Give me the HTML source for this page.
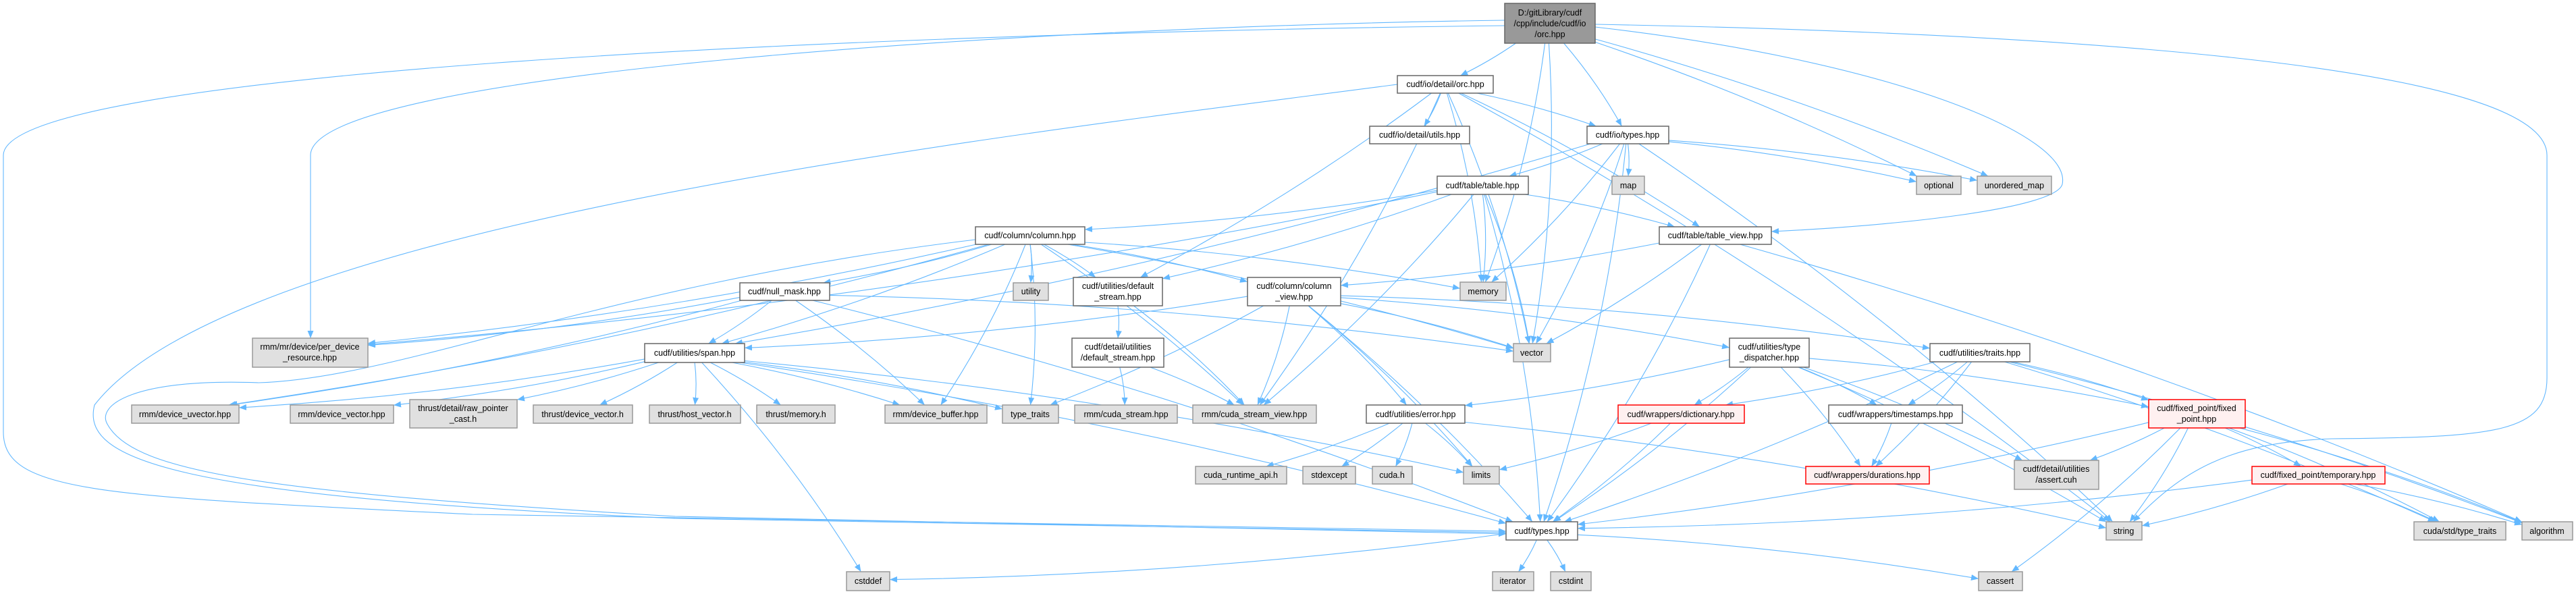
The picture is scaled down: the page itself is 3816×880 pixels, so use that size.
<!DOCTYPE html>
<html><head><meta charset="utf-8"><style>
html,body{margin:0;padding:0;background:#fff;width:3816px;height:880px;overflow:hidden}
svg{display:block}
text{font-family:"Liberation Sans",Arial,sans-serif;font-size:12.5px;fill:#000;text-anchor:middle}
.w{fill:#fff;stroke:#666;stroke-width:1.5}
.g{fill:#e0e0e0;stroke:#999;stroke-width:1.5}
.r{fill:#fff0f0;stroke:#f00;stroke-width:1.5}
.m{fill:#999;stroke:#666;stroke-width:1.5}
.e{fill:none;stroke:#63b8ff;stroke-width:1.1}
</style></head><body>
<svg id="s" width="3816" height="880" viewBox="0 0 3816 880" xmlns="http://www.w3.org/2000/svg">
<defs><marker id="a" markerUnits="userSpaceOnUse" markerWidth="11" markerHeight="9" refX="11" refY="4.5" orient="auto"><path d="M0,0 L11,4.5 L0,9 z" fill="#63b8ff"/></marker></defs>
<g id="edges"></g>
<g id="nodes">
<rect class="m" x="2229" y="5" width="134" height="59"/><text x="2296" y="23">D:/gitLibrary/cudf</text><text x="2296" y="39">/cpp/include/cudf/io</text><text x="2296" y="55">/orc.hpp</text>
<rect class="w" x="2070" y="112" width="142" height="26"/><text x="2141" y="129">cudf/io/detail/orc.hpp</text>
<rect class="w" x="2029" y="187" width="148" height="26"/><text x="2103" y="204">cudf/io/detail/utils.hpp</text>
<rect class="w" x="2351" y="187" width="121" height="26"/><text x="2411" y="204">cudf/io/types.hpp</text>
<rect class="w" x="2129" y="261" width="135" height="27"/><text x="2196" y="279">cudf/table/table.hpp</text>
<rect class="g" x="2388" y="261" width="48" height="27"/><text x="2412" y="279">map</text>
<rect class="g" x="2839" y="261" width="66" height="27"/><text x="2872" y="279">optional</text>
<rect class="g" x="2929" y="261" width="110" height="27"/><text x="2984" y="279">unordered_map</text>
<rect class="w" x="2458" y="336" width="166" height="26"/><text x="2541" y="353">cudf/table/table_view.hpp</text>
<rect class="g" x="2163" y="418" width="68" height="27"/><text x="2197" y="436">memory</text>
<rect class="w" x="1445" y="336" width="162" height="26"/><text x="1526" y="353">cudf/column/column.hpp</text>
<rect class="w" x="1096" y="419" width="133" height="26"/><text x="1162" y="436">cudf/null_mask.hpp</text>
<rect class="g" x="1501" y="419" width="52" height="26"/><text x="1527" y="436">utility</text>
<rect class="w" x="1590" y="411" width="132" height="42"/><text x="1656" y="428">cudf/utilities/default</text><text x="1656" y="444">_stream.hpp</text>
<rect class="w" x="1848" y="411" width="138" height="42"/><text x="1917" y="428">cudf/column/column</text><text x="1917" y="444">_view.hpp</text>
<rect class="g" x="374" y="501" width="171" height="43"/><text x="459" y="518">rmm/mr/device/per_device</text><text x="459" y="534">_resource.hpp</text>
<rect class="w" x="955" y="509" width="148" height="28"/><text x="1029" y="527">cudf/utilities/span.hpp</text>
<rect class="g" x="2242" y="509" width="55" height="27"/><text x="2269" y="527">vector</text>
<rect class="w" x="2562" y="501" width="118" height="43"/><text x="2621" y="518">cudf/utilities/type</text><text x="2621" y="534">_dispatcher.hpp</text>
<rect class="w" x="2859" y="509" width="148" height="27"/><text x="2933" y="527">cudf/utilities/traits.hpp</text>
<rect class="g" x="195" y="600" width="159" height="27"/><text x="274" y="618">rmm/device_uvector.hpp</text>
<rect class="g" x="430" y="600" width="153" height="27"/><text x="506" y="618">rmm/device_vector.hpp</text>
<rect class="g" x="607" y="592" width="159" height="42"/><text x="686" y="609">thrust/detail/raw_pointer</text><text x="686" y="625">_cast.h</text>
<rect class="g" x="790" y="600" width="147" height="27"/><text x="863" y="618">thrust/device_vector.h</text>
<rect class="g" x="962" y="600" width="135" height="27"/><text x="1029" y="618">thrust/host_vector.h</text>
<rect class="g" x="1121" y="600" width="116" height="27"/><text x="1179" y="618">thrust/memory.h</text>
<rect class="g" x="1311" y="600" width="151" height="27"/><text x="1386" y="618">rmm/device_buffer.hpp</text>
<rect class="g" x="1485" y="600" width="83" height="27"/><text x="1526" y="618">type_traits</text>
<rect class="g" x="1592" y="600" width="152" height="27"/><text x="1668" y="618">rmm/cuda_stream.hpp</text>
<rect class="g" x="1767" y="600" width="183" height="27"/><text x="1858" y="618">rmm/cuda_stream_view.hpp</text>
<rect class="w" x="1588" y="501" width="136" height="43"/><text x="1656" y="518">cudf/detail/utilities</text><text x="1656" y="534">/default_stream.hpp</text>
<rect class="w" x="2024" y="600" width="146" height="27"/><text x="2097" y="618">cudf/utilities/error.hpp</text>
<rect class="r" x="2397" y="600" width="187" height="27"/><text x="2490" y="618">cudf/wrappers/dictionary.hpp</text>
<rect class="w" x="2709" y="600" width="198" height="27"/><text x="2808" y="618">cudf/wrappers/timestamps.hpp</text>
<rect class="r" x="3183" y="592" width="143" height="42"/><text x="3254" y="609">cudf/fixed_point/fixed</text><text x="3254" y="625">_point.hpp</text>
<rect class="g" x="1771" y="691" width="135" height="26"/><text x="1838" y="708">cuda_runtime_api.h</text>
<rect class="g" x="1930" y="691" width="78" height="26"/><text x="1969" y="708">stdexcept</text>
<rect class="g" x="2033" y="691" width="59" height="26"/><text x="2062" y="708">cuda.h</text>
<rect class="g" x="2168" y="691" width="53" height="26"/><text x="2194" y="708">limits</text>
<rect class="r" x="2675" y="691" width="183" height="26"/><text x="2766" y="708">cudf/wrappers/durations.hpp</text>
<rect class="g" x="2984" y="682" width="125" height="43"/><text x="3046" y="699">cudf/detail/utilities</text><text x="3046" y="715">/assert.cuh</text>
<rect class="r" x="3336" y="691" width="197" height="26"/><text x="3434" y="708">cudf/fixed_point/temporary.hpp</text>
<rect class="w" x="2231" y="773" width="106" height="27"/><text x="2284" y="791">cudf/types.hpp</text>
<rect class="g" x="3120" y="773" width="53" height="27"/><text x="3146" y="791">string</text>
<rect class="g" x="3576" y="773" width="136" height="27"/><text x="3644" y="791">cuda/std/type_traits</text>
<rect class="g" x="3736" y="773" width="75" height="27"/><text x="3773" y="791">algorithm</text>
<rect class="g" x="1254" y="847" width="64" height="28"/><text x="1286" y="865">cstddef</text>
<rect class="g" x="2211" y="847" width="61" height="28"/><text x="2241" y="865">iterator</text>
<rect class="g" x="2297" y="847" width="60" height="28"/><text x="2327" y="865">cstdint</text>
<rect class="g" x="2931" y="847" width="65" height="28"/><text x="2963" y="865">cassert</text>
</g>
</svg>
<script>
var N={O:[2229,5,2363,64],D:[2070,112,2212,138],U:[2029,187,2177,213],T:[2351,187,2472,213],Tb:[2129,261,2264,288],map:[2388,261,2436,288],opt:[2839,261,2905,288],umap:[2929,261,3039,288],TV:[2458,336,2624,362],mem:[2163,418,2231,445],C:[1445,336,1607,362],Nm:[1096,419,1229,445],util:[1501,419,1553,445],DS:[1590,411,1722,453],CV:[1848,411,1986,453],PDR:[374,501,545,544],S:[955,509,1103,537],vec:[2242,509,2297,536],TD:[2562,501,2680,544],TR:[2859,509,3007,536],DUV:[195,600,354,627],DV:[430,600,583,627],RPC:[607,592,766,634],DVh:[790,600,937,627],HVh:[962,600,1097,627],TMh:[1121,600,1237,627],DB:[1311,600,1462,627],TT:[1485,600,1568,627],CS:[1592,600,1744,627],CSV:[1767,600,1950,627],DDS:[1588,501,1724,544],E:[2024,600,2170,627],DICT:[2397,600,2584,627],TS:[2709,600,2907,627],FP:[3183,592,3326,634],CRA:[1771,691,1906,717],SE:[1930,691,2008,717],CUH:[2033,691,2092,717],LIM:[2168,691,2221,717],DUR:[2675,691,2858,717],AS:[2984,682,3109,725],TP:[3336,691,3533,717],Y:[2231,773,2337,800],STR:[3120,773,3173,800],CSTT:[3576,773,3712,800],ALG:[3736,773,3811,800],CSD:[1254,847,1318,875],IT:[2211,847,2272,875],CI:[2297,847,2357,875],CA:[2931,847,2996,875]};
var E="O-D O-T O-opt O-umap O-mem O-vec D-U D-T D-TV D-mem D-STR D-DS D-CSV D-vec T-Tb T-map T-opt T-umap T-mem T-STR T-vec T-Y T-S Tb-C Tb-TV Tb-mem Tb-vec Tb-DS Tb-PDR Tb-CSV Tb-Y TV-CV TV-Y TV-vec TV-ALG C-Nm C-util C-DS C-CV C-mem C-vec C-PDR C-DB C-DUV C-TT C-CSV C-S Nm-S Nm-DB Nm-PDR Nm-vec Nm-Y Nm-DUV DS-DDS DS-CSV DDS-CS DDS-CSV CV-S CV-TT CV-vec CV-TD CV-TR CV-E CV-LIM CV-Y CV-CSV S-DUV S-DV S-RPC S-DVh S-HVh S-TMh S-DB S-TT S-CSD S-LIM S-Y TD-E TD-DICT TD-TS TD-DUR TD-Y TD-STR TD-AS TD-FP TR-DICT TR-TS TR-DUR TR-FP TR-Y TR-CSTT TR-ALG E-CRA E-SE E-CUH E-STR E-LIM DICT-LIM DICT-Y TS-DUR FP-AS FP-TP FP-STR FP-Y FP-CSTT FP-ALG FP-CA TP-STR TP-CSTT TP-ALG TP-Y Y-CSD Y-IT Y-CI Y-CA".split(" ");
function c(b){return [(b[0]+b[2])/2,(b[1]+b[3])/2];}
function clip(b,p,q){var cx=p[0],cy=p[1],dx=q[0]-cx,dy=q[1]-cy,hw=(b[2]-b[0])/2,hh=(b[3]-b[1])/2;var t=Math.min(dx?hw/Math.abs(dx):1e9,dy?hh/Math.abs(dy):1e9);return [cx+dx*t,cy+dy*t];}
var out="";
E.forEach(function(e){var p=e.split("-"),a=N[p[0]],b=N[p[1]],ca=c(a),cb=c(b);var s=clip(a,ca,cb),t=clip(b,cb,ca);
var mx=(s[0]+t[0])/2,my=(s[1]+t[1])/2;
out+='<path class="e" marker-end="url(#a)" d="M'+s[0].toFixed(1)+','+s[1].toFixed(1)+' Q'+(mx+(t[1]-s[1])*0.06).toFixed(1)+','+(my-(t[0]-s[0])*0.03).toFixed(1)+' '+t[0].toFixed(1)+','+t[1].toFixed(1)+'"/>';});
var sp=["M2229,38 C1200,50 5,110 5,230 L5,640 C5,730 150,735 700,762 C1500,778 2000,784 2231,787",
"M2229,30 C1500,40 460,110 460,230 L460,501",
"M2363,36 C3100,50 3773,100 3773,230 L3773,560 C3773,640 3700,648 3454,650 C3300,655 3230,700 3160,773",
"M2363,40 C2800,90 3070,200 3055,273 C3045,310 2800,335 2624,343",
"M2070,125 C1500,200 350,330 140,600 C120,680 250,735 1000,768 L2231,789",
"M1445,355 C900,420 600,560 383,567 C200,560 140,600 160,630 C200,700 400,730 1000,765 L2231,791"];
sp.forEach(function(d){out+='<path class="e" marker-end="url(#a)" d="'+d+'"/>';});
document.getElementById("edges").innerHTML=out;
</script>
</body></html>
